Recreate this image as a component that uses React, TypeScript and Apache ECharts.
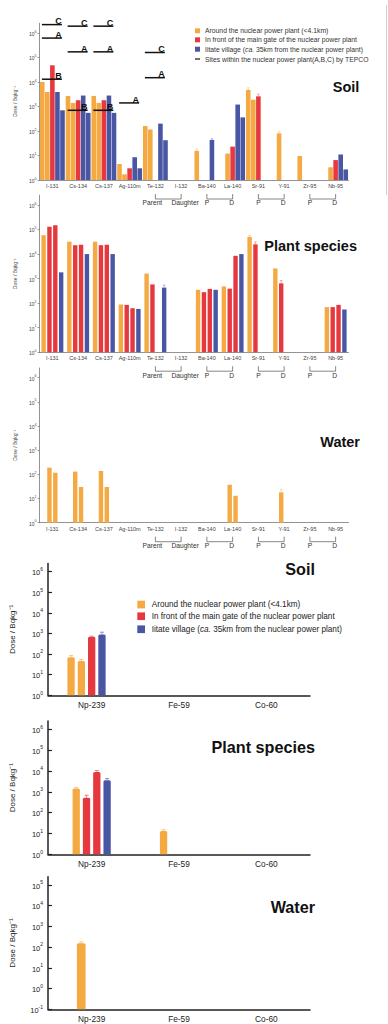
import React, { useEffect, useRef } from 'react';
import * as echarts from 'echarts';

// ---------- categories ----------
const topCategories = ['I-131', 'Cs-134', 'Cs-137', 'Ag-110m', 'Te-132', 'I-132', 'Ba-140', 'La-140', 'Sr-91', 'Y-91', 'Zr-95', 'Nb-95'];
const bottomCategories = ['Np-239', 'Fe-59', 'Co-60'];
const decadeTicks = [1, 10, 100, 1e3, 1e4, 1e5, 1e6];
const decadeTicksWater = [0.1, 1, 10, 100, 1e3, 1e4, 1e5];

// ---------- soil (upper figure), five samples per nuclide ----------
const soilSlotSites = ['around', 'around', 'gate', 'iitate', 'iitate'];
const soilSlot0 = [1.0e4, 2.7e3, 2.7e3, 4.5, 160, null, 15.5, null, 4.8e3, null, 9.5, null];
const soilSlot1 = [3.9e3, 1.4e3, 1.4e3, 1.7, 115, null, null, 12, 1.9e3, 80, null, 3.3];
const soilSlot2 = [4.8e4, 1.8e3, 1.8e3, 3.0, null, null, null, 23, 2.6e3, null, null, 6.5];
const soilSlot3 = [3.9e3, 2.8e3, 2.8e3, 8.5, 200, null, 43, 1.2e3, null, null, null, 11];
const soilSlot4 = [7.0e2, 5.5e2, 5.5e2, 3.0, 42, null, null, 3.6e2, null, null, null, 2.7];
const soilErrCategory = ['Ba-140', 'Ba-140', 'Sr-91', 'Sr-91', 'Y-91'];
const soilErrSlot = [0, 3, 0, 2, 1];
const soilErrTop = [18, 48, 5.8e3, 3.2e3, 94];

// TEPCO sites within the plant
const tepcoCategory = ['I-131', 'I-131', 'I-131', 'Cs-134', 'Cs-134', 'Cs-134', 'Cs-137', 'Cs-137', 'Cs-137', 'Ag-110m', 'Te-132', 'Te-132'];
const tepcoValue = [2.2e6, 6.2e5, 1.3e4, 1.9e6, 1.7e5, 7.0e2, 1.9e6, 1.7e5, 7.0e2, 1.4e3, 1.6e5, 1.5e4];
const tepcoSite = ['C', 'A', 'B', 'C', 'A', 'B', 'C', 'A', 'B', 'A', 'C', 'A'];

// ---------- plant species (upper figure) ----------
const plantSlotSites = ['around', 'gate', 'gate', 'iitate'];
const plantSlot0 = [5.9e4, 3.2e4, 3.2e4, 88, 1.6e3, null, 3.5e2, 4.8e2, 5.0e4, 2.6e3, null, 69];
const plantSlot1 = [1.3e5, 2.3e4, 2.3e4, 85, 5.8e2, null, 2.8e2, 3.9e2, 2.5e4, 6.4e2, null, 69];
const plantSlot2 = [1.5e5, 2.4e4, 2.4e4, 62, null, null, 3.8e2, 8.5e3, null, null, null, 85];
const plantSlot3 = [1.8e3, 1.0e4, 1.0e4, 58, 4.3e2, null, 3.5e2, 1.0e4, null, null, null, 55];
const plantErrCategory = ['Te-132', 'Sr-91', 'Sr-91', 'Y-91'];
const plantErrSlot = [3, 0, 1, 1];
const plantErrTop = [5.4e2, 5.7e4, 3.1e4, 8.3e2];

// ---------- water (upper figure) ----------
const waterSlotSites = ['around', 'around', 'around', 'around'];
const waterSlot0 = [null, null, null, null, null, null, null, null, null, null, null, null];
const waterSlot1 = [190, 130, 138, null, null, null, null, 37, null, 18, null, null];
const waterSlot2 = [117, 30, 30, null, null, null, null, 13, null, null, null, null];
const waterSlot3 = [null, null, null, null, null, null, null, null, null, null, null, null];
const waterErrCategory = ['Y-91'];
const waterErrSlot = [1];
const waterErrTop = [24];

// parent / daughter pairs
const pairParent = ['Te-132', 'Ba-140', 'Sr-91', 'Zr-95'];
const pairDaughter = ['I-132', 'La-140', 'Y-91', 'Nb-95'];
const pairParentText = ['Parent', 'P', 'P', 'P'];
const pairDaughterText = ['Daughter', 'D', 'D', 'D'];

// ---------- lower figure ----------
const soil2SlotSites = ['around', 'around', 'gate', 'iitate', 'iitate'];
const soil2Slot0 = [71, null, null];
const soil2Slot1 = [46, null, null];
const soil2Slot2 = [690, null, null];
const soil2Slot3 = [900, null, null];
const soil2Slot4 = [null, null, null];
const soil2ErrCategory = ['Np-239', 'Np-239', 'Np-239', 'Np-239'];
const soil2ErrSlot = [0, 1, 2, 3];
const soil2ErrTop = [85, 55, 740, 1160];

const plant2SlotSites = ['around', 'gate', 'gate', 'iitate'];
const plant2Slot0 = [1450, 13, null];
const plant2Slot1 = [520, null, null];
const plant2Slot2 = [9000, null, null];
const plant2Slot3 = [3600, null, null];
const plant2ErrCategory = ['Np-239', 'Np-239', 'Np-239', 'Np-239', 'Fe-59'];
const plant2ErrSlot = [0, 1, 2, 3, 0];
const plant2ErrTop = [1600, 690, 10500, 4300, 15];

const water2SlotSites = ['around', 'around', 'around'];
const water2Slot0 = [155, null, null];
const water2Slot1 = [null, null, null];
const water2Slot2 = [null, null, null];
const water2ErrCategory = ['Np-239'];
const water2ErrSlot = [0];
const water2ErrTop = [180];

// ---------- styling ----------
const COLORS: Record<string, string> = { around: '#f4a943', gate: '#e5383f', iitate: '#4956a4' };
const ERR_COLORS: Record<string, string> = { around: '#f8c57c', gate: '#ee7c82', iitate: '#8a94c8' };
const FONT = '"Liberation Sans", Arial, Helvetica, sans-serif';

const topGrids = [
  { left: 39.5, width: 309, top: 23.2, height: 156.8 },
  { left: 39.5, width: 309, top: 195.2, height: 157 },
  { left: 39.5, width: 309, top: 368, height: 154.7 },
];
const bottomGrids = [
  { left: 45, width: 265, top: 563.5, height: 131.8 },
  { left: 45, width: 265, top: 721, height: 133.3 },
  { left: 45, width: 265, top: 876.7, height: 132.6 },
];

function logLabel(base: number, sup: number, color: string, margin: number, values: number[]) {
  return {
    customValues: values,
    margin,
    formatter: (v: number) => `{b|10}{s|${Math.round(Math.log10(v))}}`,
    rich: {
      b: { fontSize: base, color, fontFamily: FONT, padding: [sup * 0.5, 0, 0, 0], verticalAlign: 'bottom' },
      s: { fontSize: sup, color, fontFamily: FONT, verticalAlign: 'top' },
    },
  };
}

function topXAxis(gridIndex: number) {
  return {
    type: 'category', gridIndex, data: topCategories,
    axisLine: { lineStyle: { color: '#777', width: 0.8 } },
    axisTick: { inside: true, length: 3, lineStyle: { color: '#777', width: 0.7 } },
    axisLabel: { fontSize: 5.5, color: '#444', margin: 3, interval: 0, fontFamily: FONT },
  };
}
function topYAxis(gridIndex: number) {
  return {
    type: 'log', logBase: 10, gridIndex, min: 1, max: Math.pow(10, 6.4),
    name: 'Dose / Bqkg\u207B\u00B9', nameLocation: 'middle', nameRotate: 90, nameGap: 22,
    nameTextStyle: { fontSize: 5, color: '#444', fontFamily: FONT },
    axisLine: { show: true, lineStyle: { color: '#777', width: 0.8 } },
    axisTick: { show: true, length: 2, customValues: decadeTicks, lineStyle: { color: '#777', width: 0.7 } },
    axisLabel: logLabel(5, 3.6, '#444', 3, decadeTicks),
    splitLine: { show: false },
  };
}
function bottomXAxis(gridIndex: number) {
  return {
    type: 'category', gridIndex, data: bottomCategories,
    axisLine: { lineStyle: { color: '#222', width: 1.5 } },
    axisTick: { inside: true, length: 5, lineStyle: { color: '#222', width: 1.2 } },
    axisLabel: { fontSize: 8.3, color: '#222', margin: 6, interval: 0, fontFamily: FONT },
  };
}
function bottomYAxis(gridIndex: number, water: boolean) {
  const vals = water ? decadeTicksWater : decadeTicks;
  return {
    type: 'log', logBase: 10, gridIndex,
    min: water ? 0.1 : 1, max: water ? Math.pow(10, 5.4) : Math.pow(10, 6.4),
    startValue: water ? 0.1 : 1,
    name: 'Dose / Bqkg\u207B\u00B9', nameLocation: 'middle', nameRotate: 90, nameGap: 32,
    nameTextStyle: { fontSize: 8, color: '#222', fontFamily: FONT },
    axisLine: { show: true, lineStyle: { color: '#222', width: 1.5 } },
    axisTick: { show: true, inside: true, length: 4, customValues: vals, lineStyle: { color: '#222', width: 1.2 } },
    axisLabel: logLabel(7.5, 5, '#222', 5, vals),
    splitLine: { show: false },
  };
}

export default function App() {
  const ref = useRef<HTMLDivElement>(null);

  useEffect(() => {
    if (!ref.current) return;
    const chart = echarts.init(ref.current, undefined, { renderer: 'svg' });
    const series: any[] = [];

    const addBars = (g: number, slots: any[][], sites: string[], w: number, gap: string, r: number) => {
      slots.forEach((data, i) => {
        series.push({
          type: 'bar', xAxisIndex: g, yAxisIndex: g, data, barWidth: w, barGap: gap,
          itemStyle: { color: COLORS[sites[i]], borderRadius: [r, r, 0, 0] }, silent: true, z: 2,
        });
      });
    };

    const addErrors = (g: number, cats: string[], categoryList: string[], slotIdx: number[], tops: number[],
      slots: any[][], sites: string[], w: number, gapRatio: number, capW: number, lw: number) => {
      const n = slots.length;
      const pitch = w * (1 + gapRatio);
      const data = cats.map((c, i) => {
        const ci = categoryList.indexOf(c);
        return [ci, tops[i], slotIdx[i], slots[slotIdx[i]][ci]];
      });
      series.push({
        type: 'custom', xAxisIndex: g, yAxisIndex: g, data, z: 3, silent: true,
        encode: { x: 0, y: 1 },
        renderItem: (_p: any, api: any) => {
          const ci = api.value(0), top = api.value(1), s = api.value(2), base = api.value(3);
          const pt = api.coord([ci, top]);
          const pb = api.coord([ci, base]);
          const x = pt[0] + (s - (n - 1) / 2) * pitch;
          const col = ERR_COLORS[sites[s]];
          return {
            type: 'group', children: [
              { type: 'line', shape: { x1: x, y1: pb[1], x2: x, y2: pt[1] }, style: { stroke: col, lineWidth: lw } },
              { type: 'line', shape: { x1: x - capW / 2, y1: pt[1], x2: x + capW / 2, y2: pt[1] }, style: { stroke: col, lineWidth: lw } },
            ],
          };
        },
      });
    };

    const addPairs = (g: number) => {
      const data = pairParent.map((p, i) => [topCategories.indexOf(p), 1, topCategories.indexOf(pairDaughter[i]), i]);
      series.push({
        type: 'custom', xAxisIndex: g, yAxisIndex: g, data, clip: false, silent: true,
        encode: { x: 0, y: 1 },
        renderItem: (_p: any, api: any) => {
          const i = api.value(3);
          const a = api.coord([api.value(0), 1]);
          const b = api.coord([api.value(2), 1]);
          const y0 = a[1];
          const big = pairParentText[i].length > 1;
          const st = { stroke: '#555', lineWidth: 0.7 };
          return {
            type: 'group', children: [
              { type: 'line', shape: { x1: a[0], y1: y0 + 14, x2: a[0], y2: y0 + 19 }, style: st },
              { type: 'line', shape: { x1: b[0], y1: y0 + 14, x2: b[0], y2: y0 + 19 }, style: st },
              { type: 'line', shape: { x1: a[0], y1: y0 + 19, x2: b[0], y2: y0 + 19 }, style: st },
              { type: 'text', x: a[0] - (big ? 3 : 0), y: y0 + 22.8, style: { text: pairParentText[i], fontSize: 6.7, fontFamily: FONT, fill: '#333', align: 'center', verticalAlign: 'middle' } },
              { type: 'text', x: b[0] + (big ? 4 : -1), y: y0 + 22.8, style: { text: pairDaughterText[i], fontSize: 6.7, fontFamily: FONT, fill: '#333', align: 'center', verticalAlign: 'middle' } },
            ],
          };
        },
      });
    };

    // upper figure
    const soilSlots = [soilSlot0, soilSlot1, soilSlot2, soilSlot3, soilSlot4];
    const plantSlots = [plantSlot0, plantSlot1, plantSlot2, plantSlot3];
    const waterSlots = [waterSlot0, waterSlot1, waterSlot2, waterSlot3];
    addBars(0, soilSlots, soilSlotSites, 4.6, '10%', 0);
    addBars(1, plantSlots, plantSlotSites, 4.4, '33%', 0);
    addBars(2, waterSlots, waterSlotSites, 4.4, '33%', 0);
    addErrors(0, soilErrCategory, topCategories, soilErrSlot, soilErrTop, soilSlots, soilSlotSites, 4.6, 0.1, 2.5, 0.7);
    addErrors(1, plantErrCategory, topCategories, plantErrSlot, plantErrTop, plantSlots, plantSlotSites, 4.4, 0.33, 2.5, 0.7);
    addErrors(2, waterErrCategory, topCategories, waterErrSlot, waterErrTop, waterSlots, waterSlotSites, 4.4, 0.33, 2.5, 0.7);
    addPairs(0); addPairs(1); addPairs(2);

    // TEPCO lines
    series.push({
      type: 'custom', xAxisIndex: 0, yAxisIndex: 0, clip: false, silent: true, z: 5,
      data: tepcoCategory.map((c, i) => [topCategories.indexOf(c), tepcoValue[i], i]),
      encode: { x: 0, y: 1 },
      renderItem: (_p: any, api: any) => {
        const p = api.coord([api.value(0), api.value(1)]);
        const i = api.value(2);
        return {
          type: 'group', children: [
            { type: 'line', shape: { x1: p[0] - 10.5, y1: p[1], x2: p[0] + 9.5, y2: p[1] }, style: { stroke: '#111', lineWidth: 1.5 } },
            { type: 'text', x: p[0] + 6, y: p[1] + 1.2, style: { text: tepcoSite[i], fontSize: 9, fontWeight: 'bold', fontFamily: FONT, fill: '#111', align: 'center', verticalAlign: 'bottom' } },
          ],
        };
      },
    });

    // lower figure
    const soil2Slots = [soil2Slot0, soil2Slot1, soil2Slot2, soil2Slot3, soil2Slot4];
    const plant2Slots = [plant2Slot0, plant2Slot1, plant2Slot2, plant2Slot3];
    const water2Slots = [water2Slot0, water2Slot1, water2Slot2];
    addBars(3, soil2Slots, soil2SlotSites, 7.3, '41%', 1.5);
    addBars(4, plant2Slots, plant2SlotSites, 7.3, '41%', 1.5);
    addBars(5, water2Slots, water2SlotSites, 8.7, '20%', 1.5);
    addErrors(3, soil2ErrCategory, bottomCategories, soil2ErrSlot, soil2ErrTop, soil2Slots, soil2SlotSites, 7.3, 0.41, 4, 1);
    addErrors(4, plant2ErrCategory, bottomCategories, plant2ErrSlot, plant2ErrTop, plant2Slots, plant2SlotSites, 7.3, 0.41, 4, 1);
    addErrors(5, water2ErrCategory, bottomCategories, water2ErrSlot, water2ErrTop, water2Slots, water2SlotSites, 8.7, 0.2, 4, 1);

    const legendTexts = [
      { site: 'around', rich: 'Around the nuclear power plant (<4.1km)' },
      { site: 'gate', rich: 'In front of the main gate of the nuclear power plant' },
      { site: 'iitate', rich: 'Iitate village ({i|ca.} 35km from the nuclear power plant)' },
    ];
    const topLegendY = [30.8, 39.8, 49.2];
    const bottomLegendY = [604.5, 616.2, 629.2];
    const graphic: any[] = [];
    legendTexts.forEach((l, i) => {
      graphic.push({ type: 'rect', shape: { x: 195, y: topLegendY[i] - 2.5, width: 5, height: 5 }, style: { fill: COLORS[l.site] } });
      graphic.push({ type: 'text', x: 205, y: topLegendY[i], style: { text: l.rich, fontSize: 6.8, fontFamily: FONT, fill: '#333', verticalAlign: 'middle', rich: { i: { fontSize: 6.8, fontStyle: 'italic', fontFamily: FONT, fill: '#333' } } } });
      graphic.push({ type: 'rect', shape: { x: 137.3, y: bottomLegendY[i] - 3.8, width: 7.7, height: 7.7 }, style: { fill: COLORS[l.site] } });
      graphic.push({ type: 'text', x: 151.7, y: bottomLegendY[i], style: { text: l.rich, fontSize: 8.2, fontFamily: FONT, fill: '#222', verticalAlign: 'middle', rich: { i: { fontSize: 8.2, fontStyle: 'italic', fontFamily: FONT, fill: '#222' } } } });
    });
    graphic.push({ type: 'line', shape: { x1: 195, y1: 59, x2: 200, y2: 59 }, style: { stroke: '#111', lineWidth: 1.2 } });
    graphic.push({ type: 'text', x: 205, y: 59, style: { text: 'Sites within the nuclear power plant(A,B,C) by TEPCO', fontSize: 6.8, fontFamily: FONT, fill: '#333', verticalAlign: 'middle' } });
    const titles = [
      { t: 'Soil', x: 359.3, y: 87.3, s: 14.5 },
      { t: 'Plant species', x: 357, y: 246, s: 14.5 },
      { t: 'Water', x: 360, y: 441.7, s: 14.5 },
      { t: 'Soil', x: 315, y: 569.3, s: 16.2 },
      { t: 'Plant species', x: 315, y: 746.7, s: 16.2 },
      { t: 'Water', x: 315, y: 906.7, s: 16.2 },
    ];
    titles.forEach((t) => graphic.push({ type: 'text', x: t.x, y: t.y, style: { text: t.t, fontSize: t.s, fontWeight: 'bold', fontFamily: FONT, fill: '#111', align: 'right', verticalAlign: 'middle' } }));
    graphic.push({ type: 'line', shape: { x1: 386.5, y1: 5, x2: 386.5, y2: 195 }, style: { stroke: '#d0d0d0', lineWidth: 1 } });

    chart.setOption({
      animation: false,
      backgroundColor: '#ffffff',
      grid: [...topGrids, ...bottomGrids],
      xAxis: [topXAxis(0), topXAxis(1), topXAxis(2), bottomXAxis(3), bottomXAxis(4), bottomXAxis(5)],
      yAxis: [topYAxis(0), topYAxis(1), topYAxis(2), bottomYAxis(3, false), bottomYAxis(4, false), bottomYAxis(5, true)],
      series,
      graphic,
    });
    return () => chart.dispose();
  }, []);

  return <div ref={ref} style={{ position: 'absolute', left: 0, top: 0, width: 388, height: 1024 }} />;
}
